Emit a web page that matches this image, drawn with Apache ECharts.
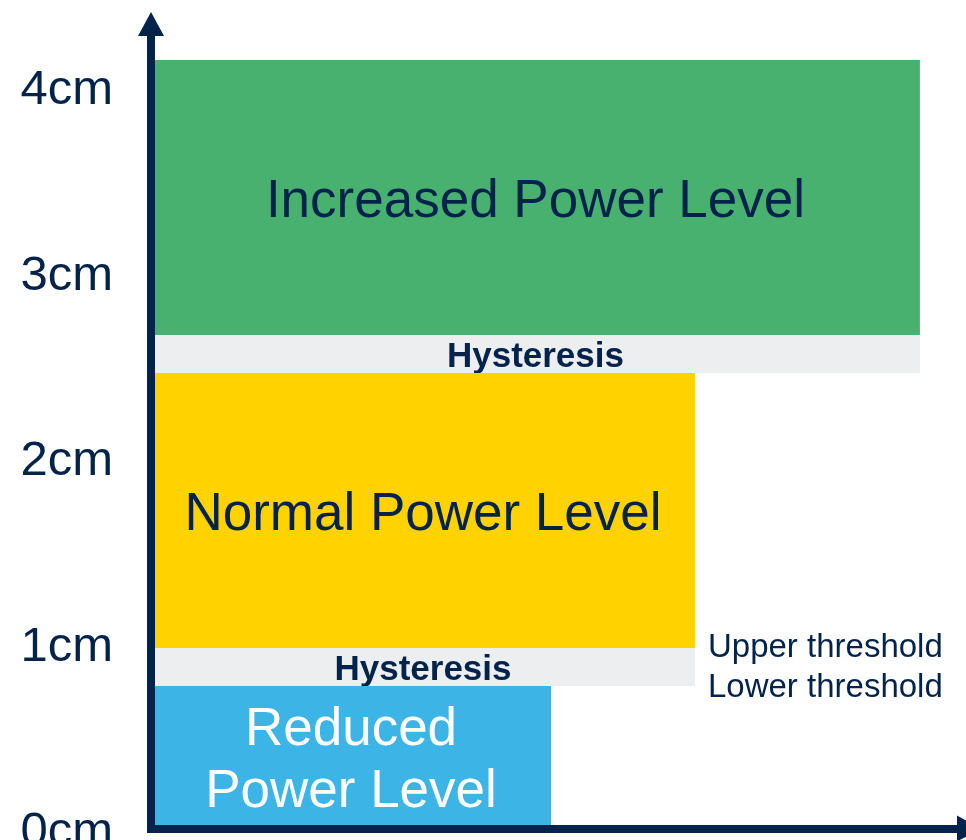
<!DOCTYPE html>
<html>
<head>
<meta charset="utf-8">
<script src="https://cdn.jsdelivr.net/npm/echarts@6/dist/echarts.min.js"></script>
<style>
html,body{margin:0;padding:0;background:#fff;}
#chart{width:966px;height:840px;}
</style>
</head>
<body>
<div id="chart"></div>
<script>
// ---- data ----
const bandNames = ['Increased Power Level', 'Hysteresis', 'Normal Power Level', 'Hysteresis', 'Reduced\nPower Level'];
const bandBottom = [2.660, 2.456, 0.973, 0.768, 0];
const bandTop = [4.143, 2.660, 2.456, 0.973, 0.768];
const bandEnd = [94.0, 94.0, 66.5, 66.5, 48.9];
const thresholdNames = ['Upper threshold', 'Lower threshold'];
const thresholdValues = [0.973, 0.768];
const thresholdX = [66.5, 66.5];
const yTickValues = [0, 1, 2, 3, 4];
const yUnit = 'cm';

// ---- styles ----
const NAVY = '#03234B';
const FONT = '"Liberation Sans", Arial, sans-serif';
const bandFill = ['#49B170', '#EDEEF0', '#FFD200', '#EDEEF0', '#3CB4E6'];
const bandTextColor = [NAVY, NAVY, NAVY, NAVY, '#FFFFFF'];
const bandFont = [
  'normal 53px ' + FONT,
  'bold 35px ' + FONT,
  'normal 53px ' + FONT,
  'bold 35px ' + FONT,
  'normal 53px ' + FONT
];
const bandTextShift = [5, 3, 5, 3, 4];
const thrTextShift = [0, 2];

const bandData = bandNames.map((n, i) => [0, bandEnd[i], bandBottom[i], bandTop[i]]);
const thrData = thresholdNames.map((n, i) => [thresholdX[i], thresholdValues[i]]);

const chart = echarts.init(document.getElementById('chart'), null, {renderer: 'canvas'});
chart.setOption({
  animation: false,
  grid: {left: 151, right: -3, top: 24, bottom: 11.5, outerBoundsMode: 'none', containLabel: false},
  xAxis: {
    type: 'value', min: 0, max: 100, z: 10,
    axisLine: {show: true, lineStyle: {color: NAVY, width: 8, cap: 'square'}, symbol: ['none', 'triangle'], symbolSize: [26, 24]},
    axisTick: {show: false}, axisLabel: {show: false}, splitLine: {show: false}
  },
  yAxis: {
    type: 'value', min: 0, max: 4.337, interval: 1, z: 10,
    axisLine: {show: true, lineStyle: {color: NAVY, width: 8, cap: 'square'}, symbol: ['none', 'triangle'], symbolSize: [26, 24]},
    axisTick: {show: false}, splitLine: {show: false},
    axisLabel: {
      margin: 38, color: NAVY, fontSize: 49, fontFamily: FONT,
      formatter: v => (yTickValues.indexOf(v) >= 0 ? '{t|' + v + yUnit + '}' : ''),
      rich: {t: {color: NAVY, fontSize: 49, fontFamily: FONT, padding: [8, 0, 0, 0]}}
    }
  },
  series: [
    {
      type: 'custom', z: 2,
      encode: {x: [0, 1], y: [2, 3]},
      data: bandData,
      renderItem: (params, api) => {
        const i = params.dataIndex;
        const p0 = api.coord([api.value(0), api.value(3)]);
        const p1 = api.coord([api.value(1), api.value(2)]);
        return {
          type: 'group',
          children: [
            {type: 'rect', shape: {x: p0[0], y: p0[1], width: p1[0] - p0[0], height: p1[1] - p0[1]}, style: {fill: bandFill[i]}},
            {type: 'text', style: {text: bandNames[i], x: (p0[0] + p1[0]) / 2, y: (p0[1] + p1[1]) / 2 + bandTextShift[i], align: 'center', verticalAlign: 'middle', font: bandFont[i], fill: bandTextColor[i], lineHeight: 62}}
          ]
        };
      }
    },
    {
      type: 'custom', z: 3,
      encode: {x: 0, y: 1},
      data: thrData,
      renderItem: (params, api) => {
        const i = params.dataIndex;
        const p = api.coord([api.value(0), api.value(1)]);
        return {type: 'text', style: {text: thresholdNames[i], x: p[0] + 13, y: p[1] + thrTextShift[i], align: 'left', verticalAlign: 'middle', font: 'normal 33px ' + FONT, fill: NAVY}};
      }
    }
  ]
});
</script>
</body>
</html>
